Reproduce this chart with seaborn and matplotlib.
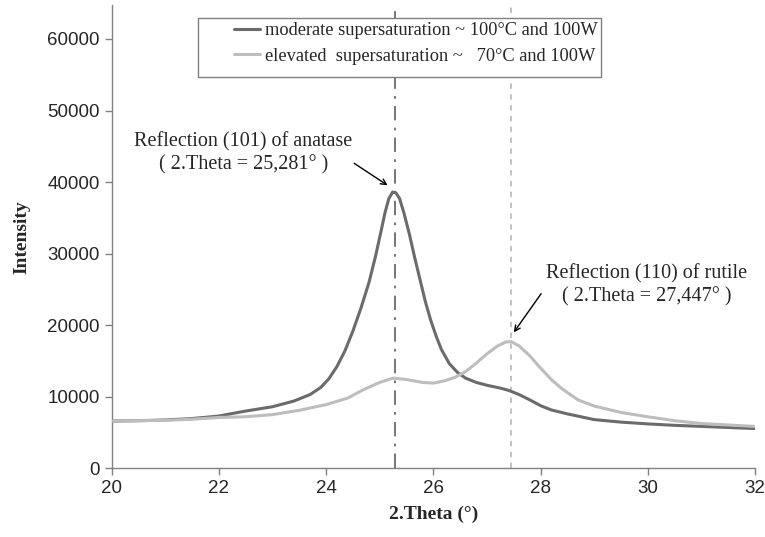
import pandas as pd
import seaborn as sns
import matplotlib.pyplot as plt
from matplotlib.patches import Rectangle

# values
theta_mod = [20.0, 20.5, 21.0, 21.5, 22.0, 22.5, 23.0, 23.4, 23.7, 23.9, 24.05, 24.2, 24.35, 24.5, 24.65,
             24.8, 24.92, 25.02, 25.1, 25.17, 25.24, 25.3, 25.37, 25.45, 25.55, 25.65, 25.75, 25.85,
             25.95, 26.05, 26.15, 26.3, 26.45, 26.6, 26.8, 27.0, 27.25, 27.4, 27.6, 27.8, 28.0, 28.2,
             28.5, 29.0, 29.5, 30.0, 30.5, 31.0, 31.5, 32.0]
int_mod = [6600, 6650, 6750, 6950, 7300, 8000, 8600, 9400, 10300, 11300, 12500, 14200, 16400, 19200, 22400,
           26000, 29600, 33000, 35800, 37700, 38600, 38500, 37700, 35700, 32800, 29500, 26400, 23300,
           20700, 18500, 16600, 14600, 13400, 12600, 12000, 11600, 11200, 10900, 10300, 9550, 8750, 8150,
           7600, 6800, 6450, 6200, 6000, 5850, 5700, 5550]

theta_elev = [20.0, 20.5, 21.0, 21.5, 22.0, 22.5, 23.0, 23.5, 24.0, 24.4, 24.7, 25.0, 25.25, 25.5,
              25.8, 26.0, 26.2, 26.4, 26.6, 26.8, 27.0, 27.2, 27.35, 27.45, 27.6, 27.8, 28.0, 28.2,
              28.4, 28.7, 29.0, 29.5, 30.0, 30.5, 31.0, 31.5, 32.0]
int_elev = [6600, 6650, 6700, 6850, 7100, 7200, 7500, 8100, 8900, 9800, 11000, 12000, 12600, 12400,
            12000, 11900, 12200, 12700, 13500, 14700, 16000, 17100, 17650, 17700, 17100, 15700, 14000, 12400,
            11100, 9550, 8700, 7800, 7200, 6650, 6250, 6050, 5850]

labels = ['moderate supersaturation ~ 100°C and 100W',
          'elevated  supersaturation ~   70°C and 100W']
anatase_pos = 25.281
rutile_pos = 27.447

df = pd.concat([
    pd.DataFrame({'theta': theta_mod, 'intensity': int_mod, 'sample': labels[0]}),
    pd.DataFrame({'theta': theta_elev, 'intensity': int_elev, 'sample': labels[1]}),
], ignore_index=True)

sns.set_style('ticks')
plt.rcParams['font.family'] = ['Liberation Serif', 'DejaVu Serif']

fig = plt.figure(figsize=(7.65, 5.37), dpi=100)
ax = fig.add_axes([0.146, 0.128, 0.841, 0.862])

dark = '#6b6b6b'
light = '#bdbdbd'

ax.axvline(anatase_pos, color=dark, lw=1.3, ls=(0, (8, 4, 1.5, 4)), zorder=1)
ax.axvline(rutile_pos, color=light, lw=1.3, ls=(0, (3, 3)), zorder=1)

sns.lineplot(data=df, x='theta', y='intensity', hue='sample', palette=[dark, light],
             lw=2.2, ax=ax, legend=True, zorder=3)

ax.set(xlim=(20, 32), ylim=(0, 64700))
ax.set_xticks(range(20, 33, 2))
ax.set_yticks(range(0, 60001, 10000))
for lab in ax.get_xticklabels() + ax.get_yticklabels():
    lab.set_family('Liberation Sans')
    lab.set_fontsize(13.5)
ax.tick_params(axis='both', length=5, color='#808080', width=1)
for s in ['top', 'right']:
    ax.spines[s].set_visible(False)
for s in ['left', 'bottom']:
    ax.spines[s].set_color('#808080')
    ax.spines[s].set_linewidth(1)

ax.set_xlabel('2.Theta (°)', fontsize=14, fontweight='bold', labelpad=6)
ax.set_ylabel('Intensity', fontsize=14, fontweight='bold', labelpad=12)

# legend (box drawn separately: wider left padding than top/bottom)
ax.add_patch(Rectangle((0.134, 0.845), 0.627, 0.127, transform=ax.transAxes,
                       facecolor='white', edgecolor='#808080', lw=1, zorder=4))
leg = ax.legend(loc='upper left', bbox_to_anchor=(0.19, 0.963), frameon=False,
                fontsize=13.2, handlelength=1.4, handletextpad=0.3, labelspacing=0.45,
                borderpad=0, borderaxespad=0)
leg.set_zorder(5)
for h in leg.get_lines():
    h.set_linewidth(2.2)

# annotations
ax.text(22.46, 44030, 'Reflection (101) of anatase\n( 2.Theta = 25,281° )', ha='center', va='center',
        fontsize=14.5, linespacing=1.25)
ax.annotate('', xy=(25.19, 39330), xytext=(24.48, 42840),
            arrowprops=dict(arrowstyle='->', color='black', lw=1))
ax.text(29.98, 25560, 'Reflection (110) of rutile\n( 2.Theta = 27,447° )', ha='center', va='center',
        fontsize=14.5, linespacing=1.25)
ax.annotate('', xy=(27.47, 18680), xytext=(28.04, 24720),
            arrowprops=dict(arrowstyle='->', color='black', lw=1))

fig.savefig('out.png', dpi=100)
